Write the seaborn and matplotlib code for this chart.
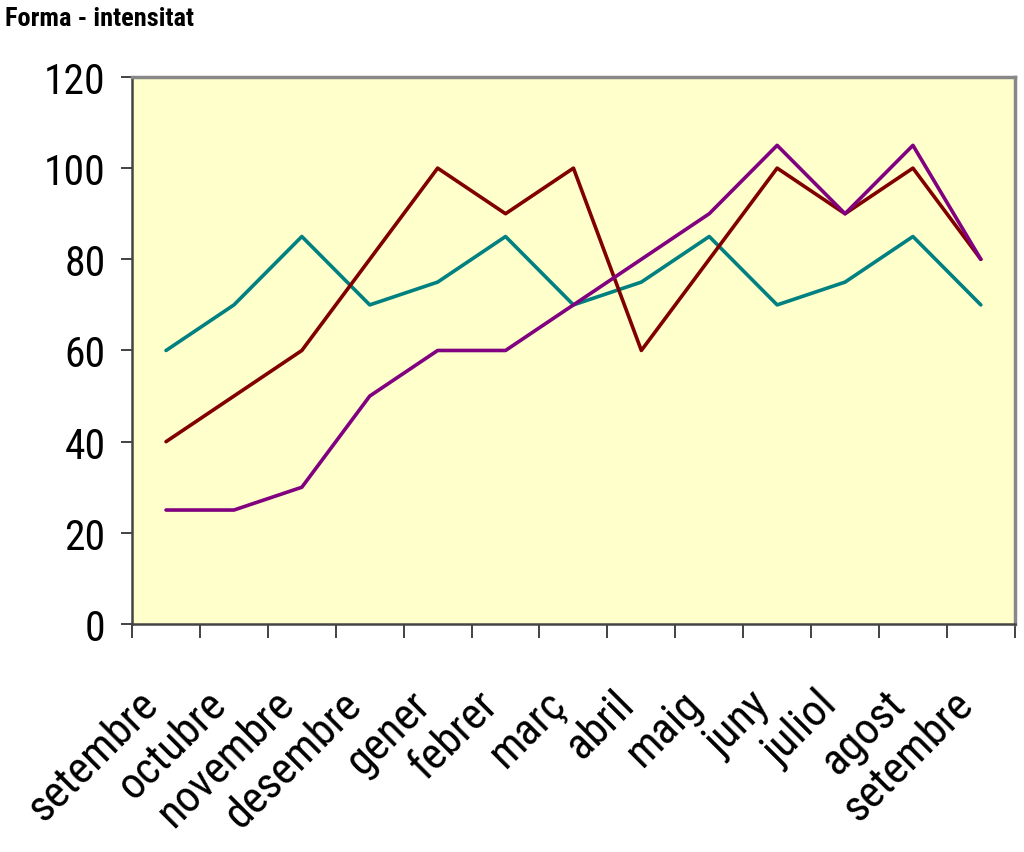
import numpy as np
import pandas as pd
import matplotlib
matplotlib.use("Agg")
import matplotlib.pyplot as plt
import matplotlib.transforms as mtransforms
from matplotlib import font_manager
import seaborn as sns

# Data
months = ["setembre", "octubre", "novembre", "desembre", "gener", "febrer", "març",
          "abril", "maig", "juny", "juliol", "agost", "setembre"]
serie_teal = [60, 70, 85, 70, 75, 85, 70, 75, 85, 70, 75, 85, 70]
serie_red = [40, 50, 60, 80, 100, 90, 100, 60, 80, 100, 90, 100, 80]
serie_purple = [25, 25, 30, 50, 60, 60, 70, 80, 90, 105, 90, 105, 80]

series_names = ["A", "B", "C"]
colors = ["#008080", "#800000", "#800080"]

pos = np.arange(len(months))
df = pd.concat([
    pd.DataFrame({"pos": pos, "valor": vals, "serie": name})
    for name, vals in zip(series_names, [serie_teal, serie_red, serie_purple])
])

sns.set_theme(style="white")

# pick a narrow font if one is installed, else Liberation Sans with smaller sizes
names = {f.name for f in font_manager.fontManager.ttflist}
narrow = [n for n in ["Liberation Sans Narrow", "Arial Narrow", "Nimbus Sans Narrow",
                      "Roboto Condensed", "Open Sans Condensed"] if n in names]
if narrow:
    plt.rcParams['font.family'] = [narrow[0], 'DejaVu Sans']
    y_size, x_size, t_size = 30, 32, 19
else:
    plt.rcParams['font.family'] = ['Liberation Sans', 'DejaVu Sans']
    y_size, x_size, t_size = 27, 26, 16
plt.rcParams['text.color'] = 'black'
plt.rcParams['xtick.color'] = 'black'
plt.rcParams['ytick.color'] = 'black'

fig = plt.figure(figsize=(10.24, 8.53), dpi=100)
ax = fig.add_axes([0.129, 0.2673, 0.862, 0.6413])
ax.set_facecolor("#FFFFCC")

sns.lineplot(data=df, x="pos", y="valor", hue="serie", palette=colors,
             linewidth=2.6, legend=False, ax=ax)

ax.set_xlim(-0.5, len(months) - 0.5)
ax.set_ylim(0, 120)
ax.set_yticks(range(0, 121, 20))
ax.tick_params(axis="y", labelsize=y_size, length=8, width=1.2, color="#222222",
               direction="out", left=True, pad=11)

# category labels at centres, tick marks at boundaries
ax.set_xticks(pos)
ax.set_xticklabels(months, rotation=45, ha="right", va="top",
                   rotation_mode="anchor", fontsize=x_size)
ax.tick_params(axis="x", which="major", length=0, pad=42)
offset = mtransforms.ScaledTranslation(-0.29, 0, fig.dpi_scale_trans)
for lab in ax.xaxis.get_majorticklabels():
    lab.set_transform(lab.get_transform() + offset)
ax.set_xticks(np.arange(-0.5, len(months), 1), minor=True)
ax.tick_params(axis="x", which="minor", length=10, width=1.2, color="#222222",
               direction="out", bottom=True)

ax.set_xlabel("")
ax.set_ylabel("")
for side in ["top", "right"]:
    ax.spines[side].set_color("#888888")
    ax.spines[side].set_linewidth(2.5)
for side in ["left", "bottom"]:
    ax.spines[side].set_color("#444444")
    ax.spines[side].set_linewidth(1.8)

fig.text(0.005, 0.978, "Forma - intensitat", fontsize=t_size, fontweight="bold",
         ha="left", va="center")

fig.savefig("out.png", dpi=100)
